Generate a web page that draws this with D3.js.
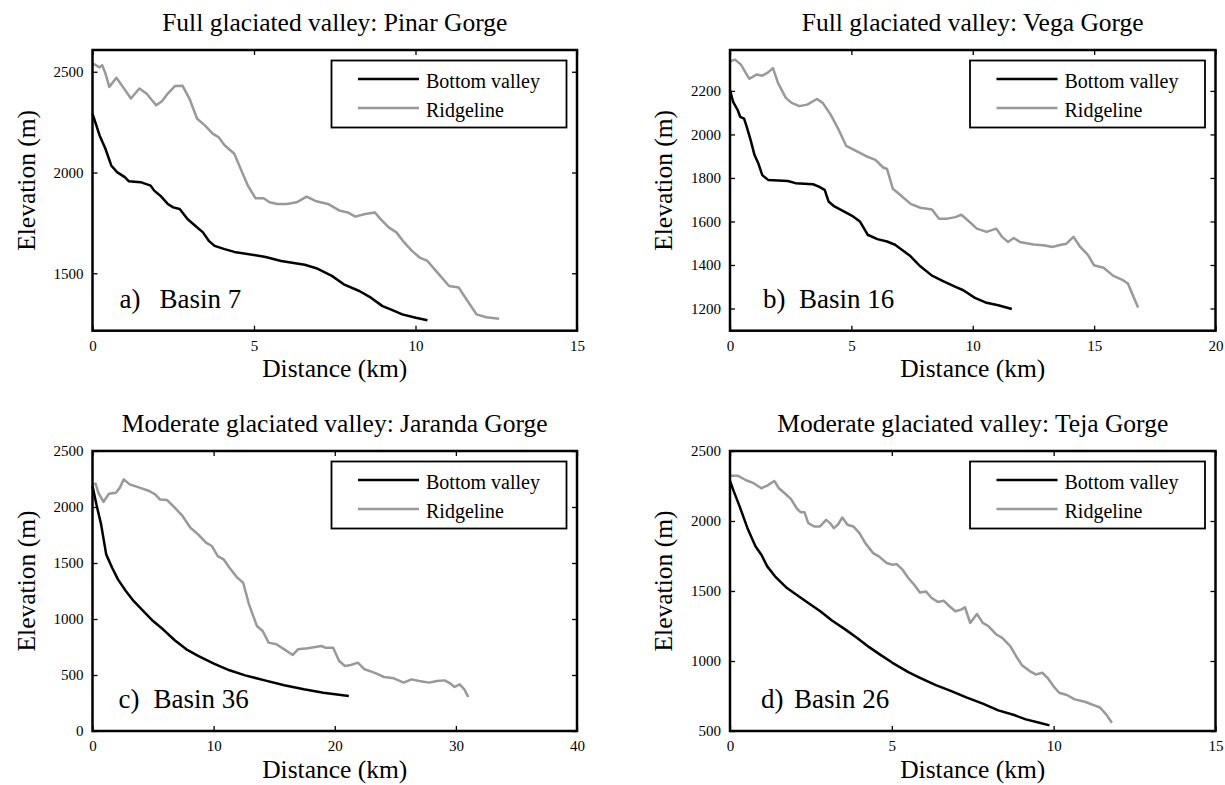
<!DOCTYPE html>
<html>
<head>
<meta charset="utf-8">
<script src="https://cdn.jsdelivr.net/npm/d3@7"></script>
<style>
  body { margin: 0; background: #fff; }
  svg text { font-family: "Times New Roman", "Liberation Serif", Tinos, "DejaVu Serif", serif; fill: #000; }
</style>
</head>
<body>
<svg id="chart" width="1225" height="785"></svg>
<script>
// Valley profiles: [distance km, elevation m]

// a) Basin 7 - Pinar Gorge
const pinarBottom = [[0,2292],[0.22,2184],[0.4,2118],[0.58,2035],[0.76,2002],[1.0,1977],[1.12,1957],[1.49,1952],[1.8,1935],[1.91,1910],[2.1,1885],[2.33,1844],[2.5,1827],[2.7,1819],[2.94,1769],[3.18,1736],[3.42,1703],[3.6,1661],[3.78,1636],[4.09,1620],[4.39,1606],[4.99,1591],[5.36,1581],[5.84,1561],[6.57,1542],[6.93,1525],[7.41,1487],[7.78,1445],[8.26,1412],[8.62,1379],[8.98,1337],[9.23,1321],[9.59,1296],[10.01,1279],[10.37,1267]];
const pinarRidge = [[0,2541],[0.1,2533],[0.22,2522],[0.3,2533],[0.4,2492],[0.52,2425],[0.74,2470],[0.94,2425],[1.19,2367],[1.45,2417],[1.67,2392],[1.97,2334],[2.15,2354],[2.33,2392],[2.55,2429],[2.79,2430],[3.0,2367],[3.24,2267],[3.48,2234],[3.72,2193],[3.9,2176],[4.09,2135],[4.39,2093],[4.63,2002],[4.81,1935],[5.05,1872],[5.3,1872],[5.48,1852],[5.72,1844],[6.02,1844],[6.32,1852],[6.63,1880],[6.93,1857],[7.29,1844],[7.65,1811],[7.9,1802],[8.14,1781],[8.44,1794],[8.74,1802],[8.92,1769],[9.17,1728],[9.41,1703],[9.65,1653],[9.89,1611],[10.13,1578],[10.37,1561],[10.68,1503],[11.04,1437],[11.34,1429],[11.58,1370],[11.89,1296],[12.19,1282],[12.59,1274]];

// b) Basin 16 - Vega Gorge
const vegaBottom = [[0,2203],[0.13,2150],[0.32,2111],[0.42,2081],[0.58,2073],[0.69,2035],[0.85,1974],[1.01,1905],[1.17,1866],[1.33,1813],[1.57,1791],[1.98,1788],[2.38,1786],[2.7,1776],[3.42,1771],[3.66,1760],[3.9,1745],[4.06,1692],[4.3,1669],[4.63,1650],[5.03,1626],[5.35,1600],[5.67,1539],[6.07,1519],[6.47,1508],[6.8,1493],[7.12,1467],[7.44,1440],[7.84,1394],[8.32,1351],[8.8,1325],[9.29,1299],[9.61,1284],[10.09,1249],[10.57,1226],[11.05,1215],[11.61,1198]];
const vegaRidge = [[0,2336],[0.21,2344],[0.45,2321],[0.69,2275],[0.8,2256],[1.09,2275],[1.33,2270],[1.57,2285],[1.77,2305],[1.98,2236],[2.3,2168],[2.54,2145],[2.86,2130],[3.18,2137],[3.58,2163],[3.82,2145],[4.14,2092],[4.47,2023],[4.79,1947],[5.19,1924],[5.59,1901],[5.99,1883],[6.31,1848],[6.47,1841],[6.71,1750],[7.04,1719],[7.44,1681],[7.84,1663],[8.32,1655],[8.61,1613],[8.96,1613],[9.29,1620],[9.53,1631],[9.85,1600],[10.17,1567],[10.57,1552],[10.97,1567],[11.21,1529],[11.45,1506],[11.69,1524],[11.94,1506],[12.5,1494],[12.9,1491],[13.3,1483],[13.54,1491],[13.86,1498],[14.15,1529],[14.43,1483],[14.75,1445],[14.99,1399],[15.39,1387],[15.79,1350],[16.19,1330],[16.39,1315],[16.81,1205]];

// c) Basin 36 - Jaranda Gorge
const jarandaBottom = [[0,2187],[0.32,2024],[0.71,1845],[1.13,1577],[1.62,1458],[2.1,1354],[2.75,1250],[3.39,1161],[4.2,1071],[5.0,982],[5.82,908],[6.79,810],[7.75,729],[8.72,670],[10.02,601],[11.31,542],[12.6,497],[14.22,452],[15.83,408],[17.45,372],[19.06,342],[21.16,312]];
const jarandaRidge = [[0,2202],[0.26,2208],[0.48,2128],[0.9,2045],[1.36,2119],[1.94,2128],[2.26,2173],[2.58,2247],[3.07,2202],[3.88,2173],[4.69,2143],[5.17,2113],[5.56,2068],[6.14,2063],[6.79,1994],[7.43,1920],[8.08,1815],[8.72,1756],[9.37,1682],[9.85,1652],[10.34,1562],[10.82,1533],[11.31,1458],[11.95,1369],[12.44,1324],[12.92,1131],[13.57,938],[14.05,893],[14.54,789],[15.19,774],[15.83,729],[16.54,679],[16.96,729],[17.77,738],[18.9,759],[19.22,744],[19.87,744],[20.36,625],[20.84,580],[21.32,589],[21.91,610],[22.46,551],[23.26,521],[24.07,482],[24.88,470],[25.69,432],[26.33,461],[26.98,446],[27.79,432],[28.43,446],[29.08,452],[29.56,423],[29.89,393],[30.31,417],[30.7,372],[31.02,304]];

// d) Basin 26 - Teja Gorge
const tejaBottom = [[0,2286],[0.12,2210],[0.3,2103],[0.54,1949],[0.79,1818],[0.97,1759],[1.15,1676],[1.39,1605],[1.76,1521],[2.12,1462],[2.42,1414],[2.79,1355],[3.15,1289],[3.57,1224],[3.93,1165],[4.3,1099],[4.66,1042],[5.02,987],[5.51,920],[5.87,880],[6.36,828],[6.84,785],[7.32,738],[7.81,695],[8.29,647],[8.78,614],[9.14,583],[9.56,559],[9.87,540]];
const tejaRidge = [[0,2324],[0.24,2324],[0.48,2293],[0.73,2270],[0.97,2234],[1.15,2253],[1.37,2286],[1.51,2234],[1.69,2198],[1.88,2158],[2.06,2091],[2.18,2063],[2.3,2063],[2.42,1985],[2.6,1961],[2.78,1961],[2.97,2008],[3.09,1985],[3.21,1949],[3.33,1973],[3.47,2025],[3.63,1973],[3.81,1961],[4.0,1913],[4.18,1842],[4.42,1771],[4.6,1747],[4.84,1700],[5.02,1688],[5.15,1692],[5.33,1652],[5.51,1593],[5.69,1545],[5.87,1490],[6.05,1497],[6.23,1450],[6.42,1422],[6.6,1431],[6.78,1391],[6.96,1355],[7.14,1367],[7.26,1384],[7.42,1272],[7.63,1336],[7.81,1272],[7.99,1248],[8.23,1189],[8.41,1165],[8.66,1106],[8.84,1034],[9.02,970],[9.26,928],[9.44,904],[9.65,916],[9.81,880],[9.99,821],[10.17,773],[10.41,757],[10.65,726],[10.96,709],[11.32,678],[11.44,666],[11.62,619],[11.8,559]];

const titles = [
  "Full glaciated valley: Pinar Gorge",
  "Full glaciated valley: Vega Gorge",
  "Moderate glaciated valley: Jaranda Gorge",
  "Moderate glaciated valley: Teja Gorge"
];
const panelLetters = ["a)", "b)", "c)", "d)"];
const basinNames = ["Basin 7", "Basin 16", "Basin 36", "Basin 26"];
const xDomains = [[0, 15], [0, 20], [0, 40], [0, 15]];
const yDomains = [[1215, 2608], [1098, 2388], [0, 2500], [500, 2500]];
const xTicks = [[0, 5, 10, 15], [0, 5, 10, 15, 20], [0, 10, 20, 30, 40], [0, 5, 10, 15]];
const yTicks = [[1500, 2000, 2500], [1200, 1400, 1600, 1800, 2000, 2200],
                [0, 500, 1000, 1500, 2000, 2500], [500, 1000, 1500, 2000, 2500]];
const seriesNames = ["Bottom valley", "Ridgeline"];
const bottoms = [pinarBottom, vegaBottom, jarandaBottom, tejaBottom];
const ridges = [pinarRidge, vegaRidge, jarandaRidge, tejaRidge];

const colors = { bottom: "#000", ridge: "#999" };
const serif = '"Times New Roman", "Liberation Serif", Tinos, "DejaVu Serif", serif';

// plot boxes (pixels)
const cols = [{ left: 92.5, right: 577 }, { left: 730, right: 1215.5 }];
const rows = [{ top: 50, bottom: 330.7 }, { top: 451, bottom: 731 }];
// label offsets that differ slightly per panel
const letterDx = [27, 33, 26, 31];
const basinDx = [67, 69, 61, 64];

const svg = d3.select("#chart");
const fmt = d3.format("d");

for (let i = 0; i < 4; i++) {
  const c = cols[i % 2], r = rows[Math.floor(i / 2)];
  const x = d3.scaleLinear().domain(xDomains[i]).range([c.left, c.right]);
  const y = d3.scaleLinear().domain(yDomains[i]).range([r.bottom, r.top]);
  const g = svg.append("g");

  // title
  g.append("text")
    .attr("x", (c.left + c.right) / 2)
    .attr("y", r.top - 19.5)
    .attr("text-anchor", "middle")
    .attr("font-size", 25.5)
    .text(titles[i]);

  // axes with inward ticks
  const bottomAxis = d3.axisBottom(x).tickValues(xTicks[i]).tickFormat(fmt).tickSize(-5).tickPadding(9.5);
  const leftAxis = d3.axisLeft(y).tickValues(yTicks[i]).tickFormat(fmt).tickSize(-5).tickPadding(9);
  const gx = g.append("g").attr("transform", `translate(0,${r.bottom})`).call(bottomAxis);
  const gy = g.append("g").attr("transform", `translate(${c.left},0)`).call(leftAxis);
  g.append("g").attr("transform", `translate(0,${r.top})`)
    .call(d3.axisTop(x).tickValues(xTicks[i]).tickSize(-5).tickFormat(""));
  g.append("g").attr("transform", `translate(${c.right},0)`)
    .call(d3.axisRight(y).tickValues(yTicks[i]).tickSize(-5).tickFormat(""));
  g.selectAll(".domain").remove();
  g.selectAll(".tick line").attr("stroke", "#000").attr("stroke-width", 1.3);
  g.selectAll("g").attr("font-family", serif);
  gx.selectAll("text").attr("font-size", 15);
  gy.selectAll("text").attr("font-size", 15);

  // curves
  const line = d3.line().x(d => x(d[0])).y(d => y(d[1]));
  g.append("path").datum(ridges[i])
    .attr("d", line).attr("fill", "none")
    .attr("stroke", colors.ridge).attr("stroke-width", 2.5).attr("stroke-linejoin", "round");
  g.append("path").datum(bottoms[i])
    .attr("d", line).attr("fill", "none")
    .attr("stroke", colors.bottom).attr("stroke-width", 2.5).attr("stroke-linejoin", "round");

  // frame
  g.append("rect")
    .attr("x", c.left).attr("y", r.top)
    .attr("width", c.right - c.left).attr("height", r.bottom - r.top)
    .attr("fill", "none").attr("stroke", "#000").attr("stroke-width", 2.5);

  // axis labels
  g.append("text")
    .attr("x", (c.left + c.right) / 2)
    .attr("y", r.bottom + 46.5)
    .attr("text-anchor", "middle")
    .attr("font-size", 25.5)
    .text("Distance (km)");
  g.append("text")
    .attr("transform", `translate(${c.left - 58},${(r.top + r.bottom) / 2 - 10}) rotate(-90)`)
    .attr("text-anchor", "middle")
    .attr("font-size", 25.5)
    .text("Elevation (m)");

  // basin label
  g.append("text")
    .attr("x", c.left + letterDx[i]).attr("y", r.bottom - 23)
    .attr("font-size", 27).text(panelLetters[i]);
  g.append("text")
    .attr("x", c.left + basinDx[i]).attr("y", r.bottom - 23)
    .attr("font-size", 27).text(basinNames[i]);

  // legend
  const lw = 235, lh = 67;
  const lg = g.append("g").attr("transform", `translate(${c.right - 10.5 - lw},${r.top + 10.5})`);
  lg.append("rect").attr("width", lw).attr("height", lh)
    .attr("fill", "#fff").attr("stroke", "#000").attr("stroke-width", 1.8);
  [colors.bottom, colors.ridge].forEach((col, k) => {
    const ly = 18.5 + k * 29;
    lg.append("line").attr("x1", 26.5).attr("x2", 87.5).attr("y1", ly).attr("y2", ly)
      .attr("stroke", col).attr("stroke-width", 2.5);
    lg.append("text").attr("x", 94.5).attr("y", ly + 8.5)
      .attr("font-size", 20).text(seriesNames[k]);
  });
}
</script>
</body>
</html>
